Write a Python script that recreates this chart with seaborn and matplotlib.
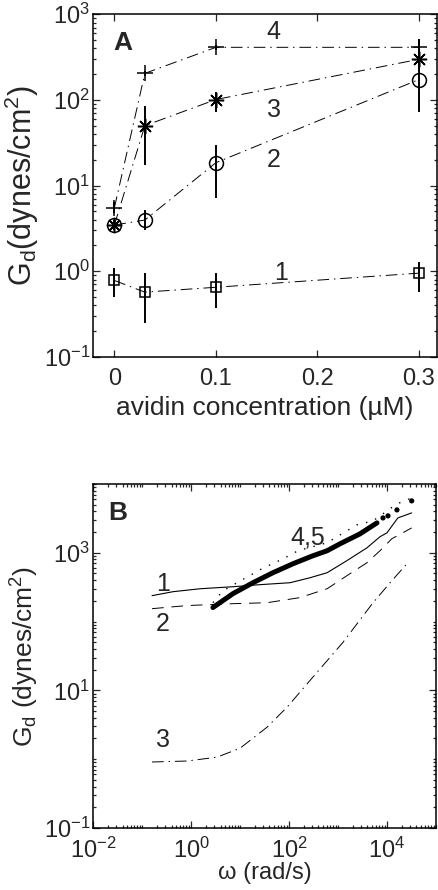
import numpy as np
import pandas as pd
import matplotlib
matplotlib.use('Agg')
import matplotlib.pyplot as plt
import matplotlib.ticker as mticker
import seaborn as sns

# panel A: avidin concentration series
conc = [0, 0.03, 0.1, 0.3]
g1 = [0.78, 0.57, 0.65, 0.95]
g1_lo = [0.50, 0.25, 0.37, 0.57]
g1_hi = [1.08, 0.95, 0.95, 1.27]
g2 = [3.46, 3.96, 18.5, 173]
g2_lo = [3.0, 3.0, 7.2, 73]
g2_hi = [4.0, 5.2, 30, 340]
g3 = [3.46, 50, 101, 298]
g3_lo = [3.0, 17.5, 73, 250]
g3_hi = [4.0, 84, 125, 360]
g4 = [5.5, 204, 411, 411]
g4_lo = [4.8, 190, 380, 350]
g4_hi = [6.5, 220, 440, 520]

# panel B: frequency sweeps
w1 = [0.16, 0.43, 1.53, 7.2, 25.6, 105, 270, 600, 1510, 3900, 7200, 10000, 16700, 32000]
b1 = [238, 272, 300, 321, 344, 367, 434, 513, 766, 1180, 1710, 1950, 3210, 3800]
w2 = [0.16, 0.83, 7.2, 35.5, 167, 600, 1760, 3900, 7200, 12600, 32000]
b2 = [154, 171, 182, 188, 223, 300, 497, 716, 1070, 1600, 2300]
w3 = [0.16, 0.83, 3.4, 10, 35.5, 91, 270, 1260, 5200, 12600, 25600]
b3 = [0.91, 0.94, 1.07, 1.44, 2.91, 5.68, 14, 49.7, 188, 393, 693]
w4 = [2.8, 4.5, 8.7, 28, 75.5, 153, 600, 2440, 5200, 16000, 32000]
b4 = [188, 281, 367, 586, 818, 1070, 1400, 2550, 2910, 5130, 6270]
w5 = [2.8, 7.2, 18.4, 47, 121, 309, 600, 1100, 2800, 6250]
b5 = [160, 255, 367, 513, 693, 906, 1070, 1350, 1880, 2720]
w5_dots = [8300, 10500, 16000, 32000]
b5_dots = [3210, 3440, 4200, 5680]

sns.set_style('ticks')
plt.rcParams['font.family'] = ['Liberation Sans', 'DejaVu Sans']
plt.rcParams['mathtext.fontset'] = 'custom'
plt.rcParams['mathtext.rm'] = 'Liberation Sans'
plt.rcParams['mathtext.it'] = 'Liberation Sans:italic'
plt.rcParams['font.size'] = 17
plt.rcParams['xtick.labelsize'] = 17
plt.rcParams['ytick.labelsize'] = 17
plt.rcParams['axes.linewidth'] = 1.1

fig = plt.figure(figsize=(4.39, 8.90), dpi=100)
axA = fig.add_axes([0.212, 0.599, 0.784, 0.385])
axB = fig.add_axes([0.212, 0.0697, 0.781, 0.3865])

dashdot = (0, (12, 5, 1.5, 5))
series = [
    (g1, g1_lo, g1_hi, 's', 6.5),
    (g2, g2_lo, g2_hi, 'o', 10),
    (g3, g3_lo, g3_hi, (8, 2, 0), 11),
    (g4, g4_lo, g4_hi, '+', 11),
]
for g, lo, hi, mk, ms in series:
    df = pd.DataFrame({'conc': conc, 'G': g})
    sns.lineplot(data=df, x='conc', y='G', ax=axA, color='k', lw=0.7,
                 linestyle=dashdot)
    axA.vlines(conc, lo, hi, color='k', lw=1.4)
    axA.plot(conc, g, linestyle='none', marker=mk, ms=ms, mfc='none',
             mec='k', mew=1.1)

axA.set_yscale('log')
axA.set_xlim(-0.021, 0.318)
axA.set_ylim(0.1, 1000)
axA.set_xticks([0, 0.1, 0.2, 0.3])
axA.set_xticklabels(['0', '0.1', '0.2', '0.3'])
axA.yaxis.set_major_locator(mticker.LogLocator(base=10, numticks=10))
axA.yaxis.set_minor_locator(mticker.LogLocator(base=10, subs=np.arange(2, 10), numticks=10))
axA.yaxis.set_minor_formatter(mticker.NullFormatter())
axA.set_xlabel('avidin concentration (\u00b5M)', fontsize=19, labelpad=4)
axA.set_ylabel(r'G$_\mathregular{d}$(dynes/cm$^\mathregular{2}$)', fontsize=22, labelpad=2)
axA.text(0.087, 0.915, 'A', transform=axA.transAxes, fontsize=19,
         fontweight='bold', ha='center', va='center')
for txt, xx, yy in [('4', 0.157, 617), ('3', 0.157, 77), ('2', 0.157, 20), ('1', 0.164, 0.95)]:
    axA.text(xx, yy, txt, fontsize=18, ha='center', va='center')

# panel B
axB.set_xscale('log')
axB.set_yscale('log')
sns.lineplot(x=w1, y=b1, ax=axB, color='k', lw=0.8)
sns.lineplot(x=w2, y=b2, ax=axB, color='k', lw=0.7, linestyle=(0, (12, 8)))
sns.lineplot(x=w3, y=b3, ax=axB, color='k', lw=0.7, linestyle=dashdot)
sns.lineplot(x=w4, y=b4, ax=axB, color='k', lw=1.0, linestyle=(0, (1, 6)))
sns.lineplot(x=w5, y=b5, ax=axB, color='k', lw=3.6, solid_capstyle='round')
sns.scatterplot(x=w5_dots, y=b5_dots, ax=axB, color='k', s=14, edgecolor='none')

axB.set_xlim(1e-2, 1e5)
axB.set_ylim(1e-1, 1e4)
axB.set_xticks([1e-2, 1, 1e2, 1e4])
axB.xaxis.set_major_formatter(mticker.LogFormatterMathtext())
axB.xaxis.set_minor_locator(mticker.LogLocator(base=10, subs=np.arange(1, 10), numticks=20))
axB.xaxis.set_minor_formatter(mticker.NullFormatter())
axB.set_yticks([1e-1, 1e1, 1e3])
axB.yaxis.set_major_formatter(mticker.LogFormatterMathtext())
axB.yaxis.set_minor_locator(mticker.LogLocator(base=10, subs=np.arange(1, 10), numticks=20))
axB.yaxis.set_minor_formatter(mticker.NullFormatter())
axB.set_xlabel('\u03c9 (rad/s)', fontsize=17, labelpad=-1)
axB.set_ylabel(r'G$_\mathregular{d}$ (dynes/cm$^\mathregular{2}$)', fontsize=19, labelpad=2)
axB.text(0.073, 0.916, 'B', transform=axB.transAxes, fontsize=19,
         fontweight='bold', ha='center', va='center')
for txt, xx, yy in [('4,5', 244, 1650), ('1', 0.27, 356), ('2', 0.27, 93.5), ('3', 0.27, 1.9)]:
    axB.text(xx, yy, txt, fontsize=18, ha='center', va='center')

for ax in (axA, axB):
    ax.tick_params(which='both', direction='in', top=True, right=True, width=0.9)
    ax.tick_params(which='major', length=5)
    ax.tick_params(which='minor', length=2.5)
    ax.tick_params(axis='y', pad=2)
    for s in ax.spines.values():
        s.set_visible(True)
        s.set_color('k')
axA.tick_params(axis='x', pad=8)
axB.tick_params(axis='x', pad=7)

fig.savefig('out.png', dpi=100)
